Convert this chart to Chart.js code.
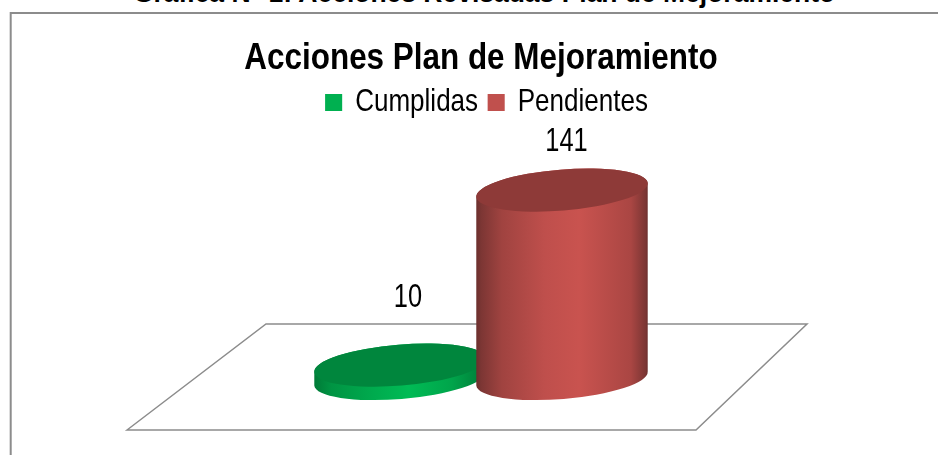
<!DOCTYPE html>
<html>
<head>
<meta charset="utf-8">
<script src="https://cdn.jsdelivr.net/npm/chart.js@4"></script>
<style>
    html, body { margin: 0; padding: 0; background: #fff; overflow: hidden; }
    #wrap { position: relative; width: 938px; height: 455px; overflow: hidden; }
    #heading {
        position: absolute; left: 0; width: 968px; top: -22px; text-align: center;
        font: bold 27px "Liberation Sans", sans-serif; color: #000; white-space: nowrap;
        transform: scaleX(0.98);
    }
    canvas { position: absolute; left: 0; top: 0; }
</style>
</head>
<body>
<div id="wrap">
    <div id="heading">Gráfica N° 1: Acciones Revisadas Plan de Mejoramiento</div>
    <canvas id="chart" width="938" height="455"></canvas>
</div>
<script>
const categories = ['Acciones'];
const seriesNames = ['Cumplidas', 'Pendientes'];
const cumplidas = [10];
const pendientes = [141];

const FONT = '"Liberation Sans", sans-serif';
const GRAY = '#8c8c8c';

// Side shading of each cylinder, left to right
const redShade = [[0, '#6b2f2d'], [0.03, '#7c3634'], [0.15, '#a04340'], [0.4, '#bf4f4c'], [0.6, '#c9534f'], [0.9, '#aa4643'], [0.985, '#7c3634'], [1, '#6b2f2d']];
const greenShade = [[0, '#007a37'], [0.1, '#009443'], [0.35, '#00ab4e'], [0.55, '#00bb55'], [0.8, '#00a54b'], [1, '#007a37']];

// Ellipse of the cylinder caps
const CAP_MINOR = 20.5;
const CAP_TILT = -4.65 * Math.PI / 180;

// The original text is narrower than any installed face, so squeeze it sideways
const TITLE_SQUEEZE = 0.873;
const LEGEND_SQUEEZE = 0.813;
const LABEL_SQUEEZE = 0.77;

function squeezeBox(chart, box, factor, dx, dy) {
    const draw = box.draw;
    box.draw = function (area) {
        const ctx = chart.ctx;
        const cx = box.left + box.width / 2;
        ctx.save();
        ctx.translate(cx + dx, dy);
        ctx.scale(factor, 1);
        ctx.translate(-cx, 0);
        draw.call(box, area);
        ctx.restore();
    };
    box.squeezed = true;
}

function drawCylinder(ctx, bar, shade, topColor) {
    const a = bar.width / 2;
    const grad = ctx.createLinearGradient(bar.x - a, 0, bar.x + a, 0);
    shade.forEach(s => grad.addColorStop(s[0], s[1]));

    ctx.beginPath();
    ctx.ellipse(bar.x, bar.base, a, CAP_MINOR, CAP_TILT, 0, Math.PI);
    ctx.ellipse(bar.x, bar.y, a, CAP_MINOR, CAP_TILT, Math.PI, 2 * Math.PI);
    ctx.closePath();
    ctx.fillStyle = grad;
    ctx.fill();

    ctx.beginPath();
    ctx.ellipse(bar.x, bar.y, a, CAP_MINOR, CAP_TILT, 0, 2 * Math.PI);
    ctx.fillStyle = topColor;
    ctx.fill();
}

const cylinderPlugin = {
    id: 'cylinders',
    beforeDraw(chart) {
        if (!chart.titleBlock.squeezed) squeezeBox(chart, chart.titleBlock, TITLE_SQUEEZE, 0, 4);
        if (!chart.legend.squeezed) squeezeBox(chart, chart.legend, LEGEND_SQUEEZE, 5.5, -1.5);

        const ctx = chart.ctx;
        const floorY = chart.chartArea.bottom;
        ctx.save();
        ctx.strokeStyle = GRAY;

        // outer frame, cut off by the right and bottom of the picture
        ctx.lineWidth = 2;
        ctx.beginPath();
        ctx.moveTo(10.7, 455);
        ctx.lineTo(10.7, 13);
        ctx.lineTo(938, 13);
        ctx.stroke();

        // floor of the 3d plot
        ctx.lineWidth = 1.5;
        ctx.beginPath();
        ctx.moveTo(127, floorY + 51.5);
        ctx.lineTo(266, floorY - 54.5);
        ctx.lineTo(807, floorY - 54.5);
        ctx.lineTo(696, floorY + 51.5);
        ctx.closePath();
        ctx.stroke();
        ctx.restore();
    },
    // default flat bars are replaced by the cylinders below
    beforeDatasetDraw() {
        return false;
    },
    afterDatasetsDraw(chart) {
        const ctx = chart.ctx;
        ctx.save();
        chart.data.datasets.forEach((ds, i) => {
            const bar = chart.getDatasetMeta(i).data[0];
            drawCylinder(ctx, bar, ds.shade, ds.topColor);
        });
        ctx.font = '33px ' + FONT;
        ctx.fillStyle = '#000';
        ctx.textAlign = 'center';
        ctx.textBaseline = 'middle';
        chart.data.datasets.forEach((ds, i) => {
            const bar = chart.getDatasetMeta(i).data[0];
            ctx.save();
            ctx.translate(bar.x + ds.labelShift, bar.y - ds.labelLift);
            ctx.scale(LABEL_SQUEEZE, 1);
            ctx.fillText(String(ds.data[0]), 0, 0);
            ctx.restore();
        });
        ctx.restore();
    }
};

new Chart(document.getElementById('chart'), {
    type: 'bar',
    data: {
        labels: categories,
        datasets: [
            { label: seriesNames[0], data: cumplidas, backgroundColor: '#00b050', shade: greenShade, topColor: '#00863d', labelShift: 8, labelLift: 67 },
            { label: seriesNames[1], data: pendientes, backgroundColor: '#c0504d', shade: redShade, topColor: '#8e3a38', labelShift: 4.5, labelLift: 48.5 }
        ]
    },
    options: {
        responsive: false,
        animation: false,
        layout: { padding: { left: 127, right: 103, bottom: 76.5, top: 0 } },
        categoryPercentage: 0.4576,
        barPercentage: 1.0617,
        scales: {
            x: { display: false },
            y: { display: false, min: 0, max: 186 }
        },
        plugins: {
            tooltip: { enabled: false },
            title: {
                display: true,
                text: 'Acciones Plan de Mejoramiento',
                color: '#000',
                font: { family: FONT, size: 36, weight: 'bold' },
                padding: { top: 33, bottom: 0 }
            },
            legend: {
                display: true,
                position: 'top',
                labels: {
                    color: '#000',
                    font: { family: FONT, size: 32 },
                    boxWidth: 21,
                    boxHeight: 17,
                    padding: 11.75
                }
            }
        }
    },
    plugins: [cylinderPlugin]
});
</script>
</body>
</html>
